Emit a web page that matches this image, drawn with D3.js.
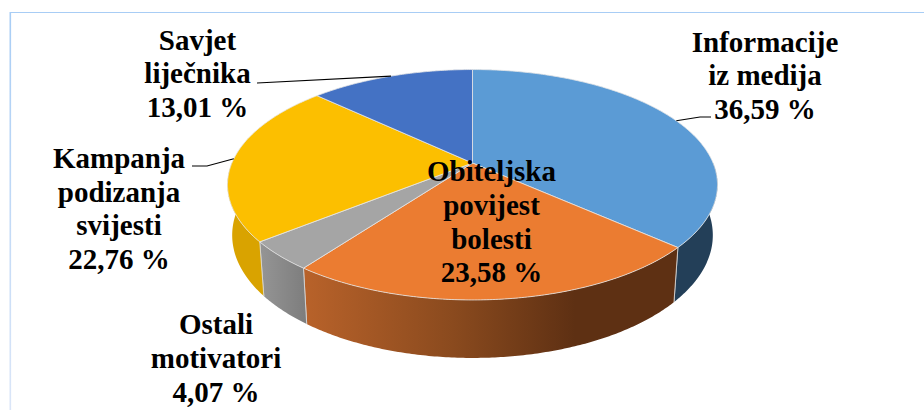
<!DOCTYPE html>
<html lang="hr">
<head>
  <meta charset="utf-8">
  <title>Motivatori</title>
  <script src="https://d3js.org/d3.v7.min.js"></script>
  <style>
    html, body { margin: 0; background: #fff; }
    svg { display: block; }
    text { font-family: "Liberation Serif", serif; font-weight: bold; font-size: 29px; fill: #000; text-anchor: middle; }
  </style>
</head>
<body>
<script type="text/javascript">

var categories = ["Informacije iz medija", "Obiteljska povijest bolesti", "Ostali motivatori", "Kampanja podizanja svijesti", "Savjet liječnika"];
var values = [36.59, 23.58, 4.07, 22.76, 13.01];
var valueLabels = ["36,59 %", "23,58 %", "4,07 %", "22,76 %", "13,01 %"];
var labelLines = [["Informacije", "iz medija"], ["Obiteljska", "povijest", "bolesti"], ["Ostali", "motivatori"], ["Kampanja", "podizanja", "svijesti"], ["Savjet", "liječnika"]];
var topColors = ["#5b9bd5", "#eb7c31", "#a5a5a5", "#fcbf00", "#4472c4"];

var width = 924, height = 410;
var cx = 472.5;
var tilt = 0.1887;   // perspective of the tilted disc
var topFace = {sx: 240.6, sy: 111.1, y0: 163};
var baseFace = {sx: 236, sy: 118.4, y0: 212};
var lineHeight = 33.8;

// label block centre x, first baseline
var labelPos = [[765, 51.5], [491.5, 181], [216, 334], [119, 167.7], [197.5, 49.5]];

var svg = d3.select("body").append("svg")
  .attr("width", width)
  .attr("height", height);

// frame of the original chart
var defs = svg.append("defs");
var frameFade = defs.append("linearGradient").attr("id", "frameFade")
  .attr("gradientUnits", "userSpaceOnUse").attr("x1", 0).attr("y1", 12).attr("x2", 0).attr("y2", 410);
frameFade.append("stop").attr("offset", 0).attr("stop-color", "#a8cdf5");
frameFade.append("stop").attr("offset", 1).attr("stop-color", "#dbe6f8");
svg.append("line").attr("x1", 10).attr("x2", 924).attr("y1", 12.5).attr("y2", 12.5)
  .attr("stroke", "#a8cdf5").attr("stroke-width", 1.2);
svg.append("rect").attr("x", 9.5).attr("y", 12).attr("width", 1.6).attr("height", 398)
  .attr("fill", "url(#frameFade)");

var slices = d3.pie().sort(null).startAngle(0).endAngle(2 * Math.PI)(values);

function project(a, face) {
  var X = Math.sin(a), Y = Math.cos(a), d = 1 + tilt * Y;
  return [cx + face.sx * X / d, face.y0 - face.sy * Y / d];
}

var line = d3.line();

function arcPoints(a0, a1, face) {
  var n = Math.max(2, Math.ceil(Math.abs(a1 - a0) / 0.01));
  return d3.range(n + 1).map(function(i) {
    return project(a0 + (a1 - a0) * i / n, face);
  });
}

// side walls, only the part facing the viewer
var wallFrom = Math.PI * 0.5, wallTo = Math.PI * 1.5;
var wallColors = ["#233f58", "url(#wallOrange)", "url(#wallGray)", "#d9a300", "#2f4f8a"];

var wallOrange = defs.append("linearGradient").attr("id", "wallOrange")
  .attr("gradientUnits", "userSpaceOnUse").attr("x1", 305).attr("y1", 0).attr("x2", 575).attr("y2", 0);
wallOrange.append("stop").attr("offset", 0).attr("stop-color", "#b8622a");
wallOrange.append("stop").attr("offset", 0.55).attr("stop-color", "#8a4a1e");
wallOrange.append("stop").attr("offset", 1).attr("stop-color", "#5e3013");
var wallGray = defs.append("linearGradient").attr("id", "wallGray")
  .attr("gradientUnits", "userSpaceOnUse").attr("x1", 262).attr("y1", 0).attr("x2", 308).attr("y2", 0);
wallGray.append("stop").attr("offset", 0).attr("stop-color", "#949494");
wallGray.append("stop").attr("offset", 1).attr("stop-color", "#7c7c7c");

slices.forEach(function(s, i) {
  var a0 = Math.max(s.startAngle, wallFrom), a1 = Math.min(s.endAngle, wallTo);
  if (a1 <= a0) return;
  var pts = arcPoints(a0, a1, topFace).concat(arcPoints(a1, a0, baseFace));
  svg.append("path")
    .attr("d", line(pts) + "Z")
    .attr("fill", wallColors[i]);
  // seam between two walls
  [s.startAngle, s.endAngle].forEach(function(a) {
    if (a > wallFrom && a < wallTo) {
      svg.append("path")
        .attr("d", line([project(a, topFace), project(a, baseFace)]))
        .attr("stroke", "#d9d9d9").attr("stroke-width", 0.8).attr("fill", "none");
    }
  });
});

// top face
slices.forEach(function(s, i) {
  var pts = [[cx, topFace.y0]].concat(arcPoints(s.startAngle, s.endAngle, topFace));
  svg.append("path")
    .attr("d", line(pts) + "Z")
    .attr("fill", topColors[i])
    .attr("stroke", "#e6e6e6")
    .attr("stroke-width", 0.8)
    .attr("stroke-linejoin", "round");
});

// leader lines: from the label to the middle of the slice rim
var leaders = [
  {slice: 0, from: [[711, 117], [700, 117]]},
  {slice: 3, from: [[192, 166], [207, 166]]},
  {slice: 4, from: [[257, 83]]}
];
leaders.forEach(function(l) {
  var s = slices[l.slice];
  var pts = l.from.concat([project((s.startAngle + s.endAngle) / 2, topFace)]);
  svg.append("path")
    .attr("d", line(pts))
    .attr("fill", "none")
    .attr("stroke", "#000")
    .attr("stroke-width", 1.1);
});

// data labels
categories.forEach(function(c, i) {
  var rows = labelLines[i].concat([valueLabels[i]]);
  svg.append("text")
    .selectAll("tspan")
    .data(rows)
    .enter()
    .append("tspan")
    .attr("x", labelPos[i][0])
    .attr("y", function(d, k) { return labelPos[i][1] + k * lineHeight; })
    .text(function(d) { return d; });
});

</script>
</body>
</html>
